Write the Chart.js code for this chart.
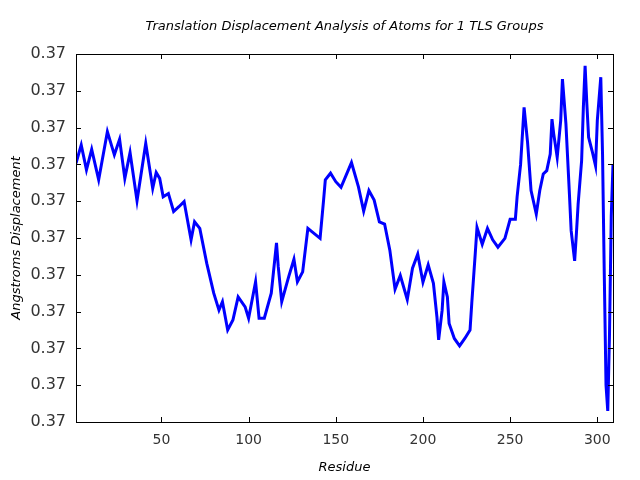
<!DOCTYPE html>
<html>
<head>
<meta charset="utf-8">
<script src="https://cdn.jsdelivr.net/npm/chart.js@4/dist/chart.umd.min.js"></script>
<style>
html,body{margin:0;padding:0;background:#fff;}
#wrap{width:640px;height:480px;}
</style>
</head>
<body>
<div id="wrap"><canvas id="c" width="640" height="480"></canvas></div>
<script>
// Residue numbers (x) and displacement (in y-grid units, every tick labelled "0.37")
const residues = [1,4,7,10,14,19,23,26,29,32,36,41,45,47,49,51,54,57,60,63,67,69,72,76,80,83,85,88,91,94,98,100,104,106,109,113,116,117,119,123,126,128,131,134,141,143,144,147,150,153,159,163,166,169,172,175,178,181,184,187,191,194,197,200,203,206,208,209,211,212,214,215,218,221,224,227,228,230,231,234,237,240,243,247,250,253,254,256,258,260,262,265,267,269,271,273,274,275,277,279,280,282,284,285,287,288,289,291,292,293,294,295,297,299,300,302,303,304,305,306,307,308,309];
const displacement = [7.03,7.53,6.85,7.41,6.58,7.89,7.26,7.68,6.62,7.32,6.01,7.57,6.35,6.78,6.62,6.12,6.21,5.72,5.85,5.99,4.95,5.44,5.26,4.31,3.50,3.04,3.27,2.50,2.77,3.40,3.13,2.82,3.81,2.82,2.82,3.50,4.87,4.22,3.27,3.95,4.42,3.81,4.08,5.26,4.99,6.03,6.58,6.76,6.53,6.38,7.05,6.39,5.73,6.29,6.03,5.44,5.38,4.67,3.61,3.98,3.33,4.18,4.56,3.80,4.27,3.77,2.86,2.23,3.04,3.81,3.40,2.68,2.27,2.07,2.27,2.50,3.23,4.58,5.29,4.83,5.26,4.95,4.75,4.99,5.51,5.51,6.12,7.00,8.55,7.60,6.29,5.65,6.29,6.74,6.83,7.28,8.23,7.83,7.19,8.19,9.32,8.10,6.20,5.20,4.38,5.11,5.92,7.10,8.55,9.68,8.64,7.74,7.37,6.96,8.19,9.37,7.28,4.00,1.00,0.30,2.40,5.60,7.00];
const xTicks = [50,100,150,200,250,300];
const yTicks = [0,1,2,3,4,5,6,7,8,9,10];
const yTickLabel = "0.37";
const titleText = "Translation Displacement Analysis of Atoms for 1 TLS Groups";
const xTitle = "Residue";
const yTitle = "Angstroms Displacement";

const points = residues.map((r,i)=>({x:r,y:displacement[i]}));

const framePlugin = {
  id:'frame',
  afterDraw(chart){
    const {ctx, chartArea:a, scales} = chart;
    ctx.save();
    ctx.strokeStyle = '#000';
    ctx.lineWidth = 1;
    ctx.strokeRect(Math.round(a.left)+0.5, Math.round(a.top)+0.5, Math.round(a.right-a.left), Math.round(a.bottom-a.top));
    ctx.beginPath();
    const L = 5;
    xTicks.forEach(v=>{
      const px = Math.round(scales.x.getPixelForValue(v))+0.5;
      ctx.moveTo(px, a.bottom); ctx.lineTo(px, a.bottom-L);
      ctx.moveTo(px, a.top); ctx.lineTo(px, a.top+L);
    });
    yTicks.forEach(v=>{
      const py = Math.round(scales.y.getPixelForValue(v))+0.5;
      ctx.moveTo(a.left, py); ctx.lineTo(a.left+L, py);
      ctx.moveTo(a.right, py); ctx.lineTo(a.right-L, py);
    });
    ctx.stroke();
    // title centred over the plot area
    ctx.fillStyle = '#000';
    ctx.font = 'italic 13px "DejaVu Sans"';
    ctx.textAlign = 'center';
    ctx.textBaseline = 'middle';
    ctx.fillText(titleText, (a.left+a.right)/2, 27);
    ctx.restore();
  }
};

new Chart(document.getElementById('c'), {
  type:'line',
  data:{datasets:[{
    data: points,
    borderColor:'#0000ff',
    borderWidth:3,
    pointRadius:0,
    tension:0,
    fill:false
  }]},
  options:{
    responsive:false,
    animation:false,
    layout:{padding:{left:0,right:27,top:54,bottom:0}},
    plugins:{
      legend:{display:false},
      tooltip:{enabled:false},
      title:{display:false}
    },
    scales:{
      x:{type:'linear',min:1,max:309,
        afterBuildTicks(s){ s.ticks = xTicks.map(v=>({value:v})); },
        afterFit(s){ s.height = 58; },
        grid:{display:false,drawTicks:false},
        border:{display:false},
        ticks:{color:'#333',padding:10,font:{family:'DejaVu Sans',size:14},maxRotation:0,autoSkip:false},
        title:{display:true,text:xTitle,color:'#000',padding:{top:0,bottom:5},font:{family:'DejaVu Sans',size:13,style:'italic'}}
      },
      y:{type:'linear',min:0,max:10,
        afterBuildTicks(s){ s.ticks = yTicks.map(v=>({value:v})); },
        afterFit(s){ s.width = 76; },
        grid:{display:false,drawTicks:false},
        border:{display:false},
        ticks:{color:'#333',padding:10,font:{family:'DejaVu Sans',size:16},callback:()=>yTickLabel},
        title:{display:true,text:yTitle,color:'#000',padding:{top:9,bottom:4},font:{family:'DejaVu Sans',size:13,style:'italic'}}
      }
    }
  },
  plugins:[framePlugin]
});
</script>
</body>
</html>
